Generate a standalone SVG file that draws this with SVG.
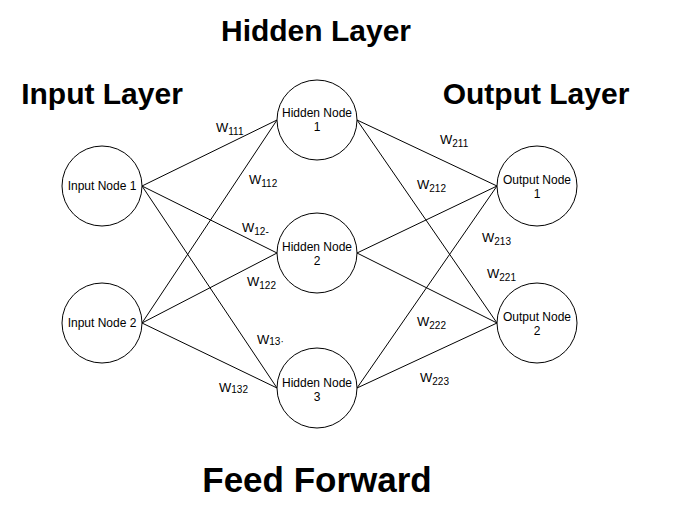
<svg xmlns="http://www.w3.org/2000/svg" width="673" height="508" viewBox="0 0 673 508">
<style>
.node circle{fill:#fff;stroke:#000;stroke-width:1}
.node text{font-family:"Liberation Sans",Arial,sans-serif;font-size:12px;text-anchor:middle;fill:#000}
.edges line{stroke:#000;stroke-width:1}
.title{font-family:"Liberation Sans",Arial,sans-serif;font-weight:bold;fill:#000;text-anchor:middle}
.w{font-family:"Liberation Sans",Arial,sans-serif;font-size:13px;fill:#000}
.w tspan.s{font-size:10px}
</style>
<rect width="673" height="508" fill="#fff"/>
<g id="edges" class="edges">
<line x1="142" y1="186" x2="277" y2="120"/>
<line x1="142" y1="186" x2="277" y2="253"/>
<line x1="142" y1="186" x2="277" y2="388"/>
<line x1="142" y1="323" x2="277" y2="120"/>
<line x1="142" y1="323" x2="277" y2="253"/>
<line x1="142" y1="323" x2="277" y2="388"/>
<line x1="357" y1="120" x2="497" y2="186"/>
<line x1="357" y1="120" x2="497" y2="323"/>
<line x1="357" y1="253" x2="497" y2="186"/>
<line x1="357" y1="253" x2="497" y2="323"/>
<line x1="357" y1="388" x2="497" y2="186"/>
<line x1="357" y1="388" x2="497" y2="323"/>
</g>
<g id="input1" class="node"><circle cx="102" cy="186" r="40"/><text x="102" y="190">Input Node 1</text></g>
<g id="input2" class="node"><circle cx="102" cy="323" r="40"/><text x="102" y="327">Input Node 2</text></g>
<g id="hidden1" class="node"><circle cx="317" cy="120" r="40"/><text x="317" y="117">Hidden Node</text><text x="317" y="131">1</text></g>
<g id="hidden2" class="node"><circle cx="317" cy="253" r="40"/><text x="317" y="251">Hidden Node</text><text x="317" y="265">2</text></g>
<g id="hidden3" class="node"><circle cx="317" cy="388" r="40"/><text x="317" y="387">Hidden Node</text><text x="317" y="401">3</text></g>
<g id="output1" class="node"><circle cx="537" cy="186" r="40"/><text x="537" y="184">Output Node</text><text x="537" y="198">1</text></g>
<g id="output2" class="node"><circle cx="537" cy="323" r="40"/><text x="537" y="321">Output Node</text><text x="537" y="335">2</text></g>
<g id="labels">
<text class="w" x="216" y="132">W<tspan class="s" dy="3">111</tspan></text>
<text class="w" x="249" y="184">W<tspan class="s" dy="3">112</tspan></text>
<text class="w" x="242" y="232">W<tspan class="s" dy="3">12-</tspan></text>
<text class="w" x="247" y="286">W<tspan class="s" dy="3">122</tspan></text>
<text class="w" x="257" y="344">W<tspan class="s" dy="1">13·</tspan></text>
<text class="w" x="219" y="392">W<tspan class="s" dy="1">132</tspan></text>
<text class="w" x="440" y="144">W<tspan class="s" dy="3">211</tspan></text>
<text class="w" x="417" y="189">W<tspan class="s" dy="3">212</tspan></text>
<text class="w" x="482" y="242">W<tspan class="s" dy="3">213</tspan></text>
<text class="w" x="487" y="278">W<tspan class="s" dy="3">221</tspan></text>
<text class="w" x="417" y="326">W<tspan class="s" dy="3">222</tspan></text>
<text class="w" x="420" y="382">W<tspan class="s" dy="3">223</tspan></text>
</g>
<g id="titles">
<text class="title" x="316" y="41" font-size="30">Hidden Layer</text>
<text class="title" x="102" y="104" font-size="30">Input Layer</text>
<text class="title" x="536" y="104" font-size="30">Output Layer</text>
<text class="title" x="317" y="492" font-size="35">Feed Forward</text>
</g>
</svg>
